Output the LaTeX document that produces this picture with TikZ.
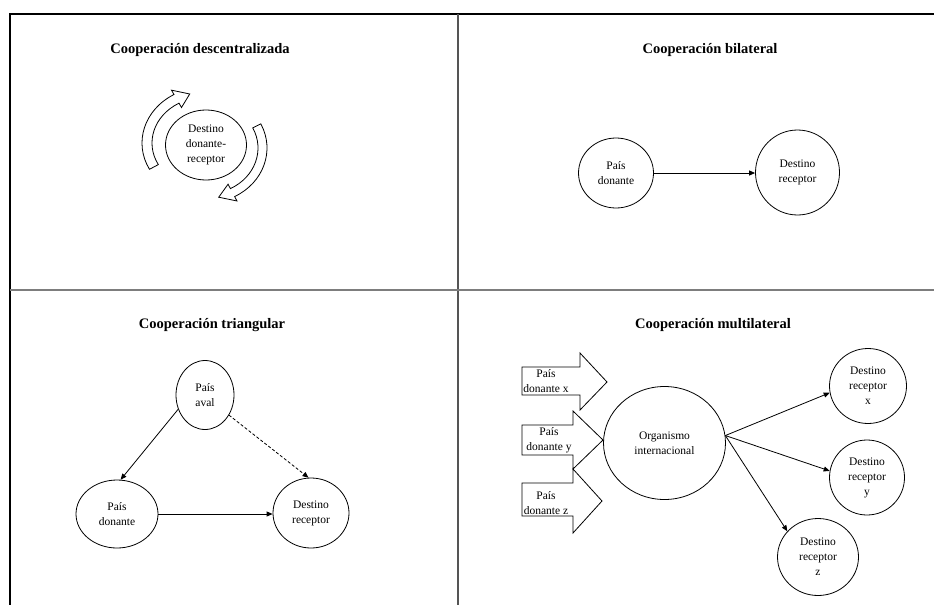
\documentclass[tikz,border=0pt]{standalone}
\usepackage{fontspec}
\setmainfont{Liberation Serif}
\usetikzlibrary{arrows.meta,shapes.geometric}
\definecolor{vline}{RGB}{85,85,85}
\definecolor{hline}{RGB}{125,125,125}
\begin{document}
\begin{tikzpicture}[x=1pt,y=-1pt,
  bub/.style={draw, ellipse, line width=0.8pt, inner sep=0pt, align=center,
              font=\fontsize{11.5}{15}\selectfont},
  lbl/.style={align=center, inner sep=0pt, font=\fontsize{11.5}{15}\selectfont},
  ttl/.style={font=\bfseries\fontsize{14.5}{17}\selectfont},
  con/.style={line width=0.8pt, -{Triangle[length=6pt,width=5pt]}},
  blk/.style={draw, line width=0.8pt, line join=miter},
]
\path[fill=white] (0,0) rectangle (934,605);
\useasboundingbox (0,0) rectangle (934,605);

% frame
\draw[line width=2pt] (934,14) -- (10,14) -- (10,605);
\draw[vline, line width=1.5pt] (458,14) -- (458,605);
\draw[hline, line width=2pt] (10,290) -- (934,290);

% titles
\node[ttl] (t1) at (200,50) {Cooperación descentralizada};
\node[ttl] (t2) at (710,50) {Cooperación bilateral};
\node[ttl] (t3) at (212,325) {Cooperación triangular};
\node[ttl] (t4) at (713,325) {Cooperación multilateral};

% descentralizada
\node[bub, minimum width=81pt, minimum height=70pt] (ddr) at (206,145) {Destino\\donante-\\receptor};
\begin{scope}[shift={(206,143)}]
\draw[blk] (-208:64 and 56) arc[start angle=-208, end angle=-120, x radius=64, y radius=56]
  -- (-120:69 and 61) -- (-106:59 and 51) -- (-120:49 and 41) -- (-120:54 and 46)
  arc[start angle=-120, end angle=-208, x radius=54, y radius=46] -- cycle;
\end{scope}
\begin{scope}[shift={(206,148)}]
\draw[blk] (-26:61 and 55) arc[start angle=-26, end angle=62, x radius=61, y radius=55]
  -- (62:66 and 60) -- (77:56.5 and 50.5) -- (62:47 and 41) -- (62:52 and 46)
  arc[start angle=62, end angle=-26, x radius=52, y radius=46] -- cycle;
\end{scope}

% bilateral
\node[bub, minimum width=75pt, minimum height=70pt] (pd) at (616,173) {País\\donante};
\node[bub, minimum width=84pt, minimum height=85pt] (dr) at (797.5,172.5) {Destino\\receptor};
\draw[con] (pd.east) -- (pd.east -| dr.west);

% triangular
\node[bub, minimum width=58pt, minimum height=69pt] (aval) at (205,395) {País\\aval};
\node[bub, minimum width=82pt, minimum height=68pt] (tdon) at (117,514) {País\\donante};
\node[bub, minimum width=76pt, minimum height=70pt] (trec) at (311,513) {Destino\\receptor};
\draw[con] (aval.208) -- (tdon.84);
\draw[con, dash pattern=on 3pt off 2pt] (aval.-40) -- (trec.94);
\draw[con] (tdon.east) -- (tdon.east -| trec.west);

% multilateral
\draw[blk] (522,367) -- (580,367) -- (580,353) -- (607,382) -- (580,410) -- (580,395) -- (522,395) -- cycle;
\draw[blk] (522,425) -- (573,425) -- (573,411) -- (603,440) -- (573,469) -- (573,455) -- (522,455) -- cycle;
\draw[blk] (522,483) -- (573,483) -- (573,469) -- (602,501) -- (573,533) -- (573,516) -- (522,516) -- cycle;
\node[lbl] (dx) at (546,381) {País\\donante x};
\node[lbl] (dy) at (549,440) {País\\donante y};
\node[lbl] (dz) at (546,503) {País\\donante z};

\node[bub, minimum width=122pt, minimum height=113pt] (org) at (664.5,443) {Organismo\\internacional};
\node[bub, minimum width=77pt, minimum height=75pt] (rx) at (868,386) {Destino\\receptor\\x};
\node[bub, minimum width=75pt, minimum height=75pt] (ry) at (867,477.5) {Destino\\receptor\\y};
\node[bub, minimum width=81pt, minimum height=77pt] (rz) at (818,557) {Destino\\receptor\\z};
\draw[con] (org.7) -- (rx.190);
\draw[con] (org.7) -- (ry.170);
\draw[con] (org.7) -- (rz.140);
\end{tikzpicture}
\end{document}
